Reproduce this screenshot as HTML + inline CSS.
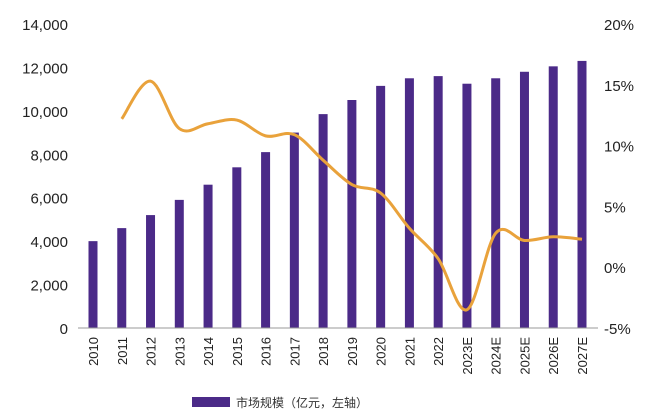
<!DOCTYPE html>
<html><head><meta charset="utf-8"><style>
html,body{margin:0;padding:0;background:#fff;}
svg{display:block;font-family:"Liberation Sans","Noto Sans CJK SC",sans-serif;}
</style></head><body>
<svg id="chart" width="651" height="417" viewBox="0 0 651 417"></svg>
<script>
const categories=["2010","2011","2012","2013","2014","2015","2016","2017","2018","2019","2020","2021","2022","2023E","2024E","2025E","2026E","2027E"];
const marketSize=[4000,4600,5200,5900,6600,7400,8100,9000,9850,10500,11150,11500,11600,11250,11500,11800,12050,12300];
const growthRate=[null,12.2,15.3,11.4,11.8,12.1,10.8,10.9,8.8,6.8,6.1,3.2,0.7,-3.5,2.8,2.2,2.5,2.3];
const leftTicks=[0,2000,4000,6000,8000,10000,12000,14000];
const rightTicks=[-5,0,5,10,15,20];
const legendLabel="市场规模（亿元，左轴）";

const svg=document.getElementById('chart');
const NS='http://www.w3.org/2000/svg';
const plotTop=24,plotBottom=328,x0=93,step=(582-93)/17;
const yL=v=>plotBottom-(v-0)/14000*(plotBottom-plotTop);
const yR=v=>plotBottom-(v+5)/25*(plotBottom-plotTop);
const xC=i=>x0+i*step;
function mk(t,a){const e=document.createElementNS(NS,t);for(const k in a)e.setAttribute(k,a[k]);svg.appendChild(e);return e;}

leftTicks.forEach(v=>{const t=mk('text',{x:68,y:yL(v)+6,'text-anchor':'end','font-size':15,fill:'#222'});t.textContent=v.toLocaleString('en-US');

});
rightTicks.forEach(v=>{const t=mk('text',{x:604,y:yR(v)+6,'text-anchor':'start','font-size':15,fill:'#222'});t.textContent=v+'%';

});

marketSize.forEach((v,i)=>{const b=mk('rect',{x:xC(i)-4.5,y:yL(v),width:9,height:plotBottom-yL(v),fill:'#4b2a88'});

});

const ax=mk('line',{x1:78,x2:598,y1:plotBottom,y2:plotBottom,stroke:'#999','stroke-width':1});



categories.forEach((c,i)=>{const t=mk('text',{x:0,y:0,'text-anchor':'end','font-size':13,fill:'#222',transform:`translate(${xC(i)+5},337) rotate(-90)`});t.textContent=c;

});

const pts=[];growthRate.forEach((v,i)=>{if(v!==null)pts.push([xC(i),yR(v)]);});
let d=`M${pts[0][0]},${pts[0][1]}`;
for(let i=0;i<pts.length-1;i++){const p0=pts[i-1]||pts[i],p1=pts[i],p2=pts[i+1],p3=pts[i+2]||p2;
d+=` C${p1[0]+(p2[0]-p0[0])/6},${p1[1]+(p2[1]-p0[1])/6} ${p2[0]-(p3[0]-p1[0])/6},${p2[1]-(p3[1]-p1[1])/6} ${p2[0]},${p2[1]}`;}
const ln=mk('path',{d:d,fill:'none',stroke:'#e9a23b','stroke-width':3});



const lb=mk('rect',{x:192,y:397,width:38,height:10,fill:'#4b2a88'});


const lt=mk('text',{x:236,y:407,'font-size':12,fill:'#333'});lt.textContent=legendLabel;


</script>
</body></html>
